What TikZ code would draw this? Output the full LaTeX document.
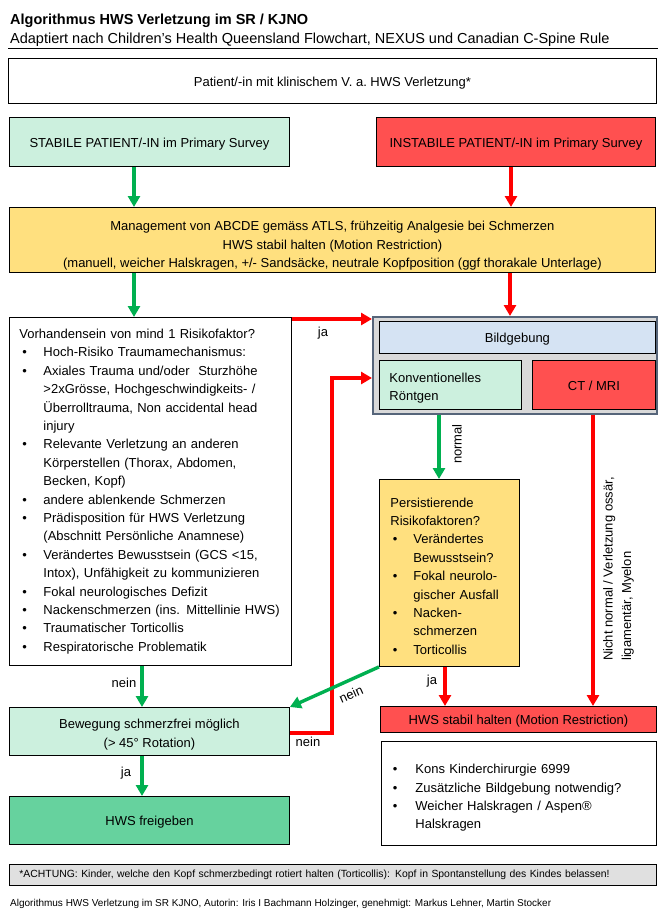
\documentclass[tikz,border=0pt]{standalone}
\usepackage{fontspec}
\setmainfont{Liberation Sans}
\usetikzlibrary{arrows.meta,calc}
\definecolor{mint}{HTML}{CCF0DE}
\definecolor{redbox}{HTML}{FF5050}
\definecolor{yel}{HTML}{FFE07F}
\definecolor{lblue}{HTML}{D5E3F3}
\definecolor{frei}{HTML}{66D29E}
\definecolor{cgray}{HTML}{D9D9D9}
\definecolor{lgray}{HTML}{E0E0E0}
\definecolor{slate}{HTML}{56657A}
\definecolor{arrg}{HTML}{00B050}
\definecolor{arrr}{HTML}{FF0000}
\newcommand\bitem[3]{\par\noindent\hangindent=#1\relax\makebox[#1][l]{\hspace{#2}\textbullet}#3}
\newcommand\tup[1]{\rule{0pt}{#1}}
\begin{document}
\begin{tikzpicture}[x=1pt,y=-1pt,
  every node/.style={font=\fontsize{13}{18.4}\selectfont},
  box/.style={draw=black, line width=0.9pt, inner sep=0pt, anchor=north west, align=center},
  one/.style={text height=13.5pt, text depth=3pt},
  lbl/.style={inner sep=0pt},
  garr/.style={draw=arrg, line width=3.4pt, -{Triangle[length=11pt,width=12pt]}},
  rarr/.style={draw=arrr, line width=3.4pt, -{Triangle[length=11pt,width=12pt]}}]
\useasboundingbox (0,0) rectangle (664,914);
\fill[white] (0,0) rectangle (664,914);
% header
\node[lbl, anchor=base west, font=\fontsize{14.5}{17}\selectfont\bfseries] (title) at (10,24) {Algorithmus HWS Verletzung im SR / KJNO};
\node[lbl, anchor=base west, font=\fontsize{14.5}{17}\selectfont] (subtitle) at (10,43) {Adaptiert nach Children’s Health Queensland Flowchart, NEXUS und Canadian C-Spine Rule};
\draw[line width=1pt] (8,48) -- (658,48);
% boxes
\node[box, one, minimum width=648, minimum height=45] (patient) at (8,58) {Patient/-in mit klinischem V.\ a.\ HWS Verletzung*};
\node[box, one, fill=mint, minimum width=280, minimum height=49] (stable) at (9,117) {STABILE PATIENT/-IN im Primary Survey};
\node[box, one, fill=redbox, minimum width=279, minimum height=49] (instable) at (376,117) {INSTABILE PATIENT/-IN im Primary Survey};
\node[box, fill=yel, minimum width=646, minimum height=65] (mgmt) at (9,207) {\tup{21.5pt}Management von ABCDE gemäss ATLS, frühzeitig Analgesie bei Schmerzen\\HWS stabil halten (Motion Restriction)\\(manuell, weicher Halskragen, +/- Sandsäcke, neutrale Kopfposition (ggf thorakale Unterlage)};
\node[box, minimum width=282, minimum height=348, text width=262, align=left, inner xsep=10pt] (risk) at (9,317) {\noindent Vorhandensein von mind 1 Risikofaktor?
\bitem{24pt}{3pt}{Hoch-Risiko Traumamechanismus:}
\bitem{24pt}{3pt}{Axiales Trauma und/oder\ \ Sturzhöhe\newline >2xGrösse, Hochgeschwindigkeits- /\newline Überrolltrauma, Non accidental head\newline injury}
\bitem{24pt}{3pt}{Relevante Verletzung an anderen\newline Körperstellen (Thorax, Abdomen,\newline Becken, Kopf)}
\bitem{24pt}{3pt}{andere ablenkende Schmerzen}
\bitem{24pt}{3pt}{Prädisposition für HWS Verletzung\newline (Abschnitt Persönliche Anamnese)}
\bitem{24pt}{3pt}{Verändertes Bewusstsein (GCS <15,\newline Intox), Unfähigkeit zu kommunizieren}
\bitem{24pt}{3pt}{Fokal neurologisches Defizit}
\bitem{24pt}{3pt}{Nackenschmerzen (ins. Mittellinie HWS)}
\bitem{24pt}{3pt}{Traumatischer Torticollis}
\bitem{24pt}{3pt}{Respiratorische Problematik}\par};
\node[box, draw=slate, line width=1.5pt, fill=cgray, minimum width=284, minimum height=97] (img) at (372,316) {};
\node[box, one, fill=lblue, minimum width=276, minimum height=32] (bild) at (379,321) {Bildgebung};
\node[box, fill=mint, minimum width=142, minimum height=49, text width=122, align=left, inner xsep=10pt] (konv) at (379,360) {\noindent\tup{15.5pt}Konventionelles\\Röntgen};
\node[box, one, fill=redbox, minimum width=123, minimum height=49] (ct) at (532,360) {CT / MRI};
\node[box, fill=yel, minimum width=140, minimum height=187, text width=118, align=left, inner xsep=11pt] (pers) at (379,479) {\noindent\tup{15.5pt}Persistierende\\Risikofaktoren?
\bitem{23pt}{2.5pt}{Verändertes\newline Bewusstsein?}
\bitem{23pt}{2.5pt}{Fokal neurolo-\newline gischer Ausfall}
\bitem{23pt}{2.5pt}{Nacken-\newline schmerzen}
\bitem{23pt}{2.5pt}{Torticollis}\par};
\node[box, fill=mint, minimum width=280, minimum height=48] (bew) at (9,707) {\tup{15.5pt}Bewegung schmerzfrei möglich\\(> 45° Rotation)};
\node[box, one, fill=frei, minimum width=280, minimum height=48] (frei) at (9,796) {HWS freigeben};
\node[box, one, fill=redbox, minimum width=276, minimum height=26] (stab) at (380,706) {HWS stabil halten (Motion Restriction)};
\node[box, minimum width=275, minimum height=104, text width=255, align=left, inner xsep=10pt] (kons) at (381,741) {\bitem{24pt}{1.5pt}{Kons Kinderchirurgie 6999}
\bitem{24pt}{1.5pt}{Zusätzliche Bildgebung notwendig?}
\bitem{24pt}{1.5pt}{Weicher Halskragen / Aspen®\newline Halskragen}\par};
\node[box, fill=lgray, minimum width=647, minimum height=21, text width=627, align=left, inner xsep=10pt, font=\fontsize{10.4}{12}\selectfont] (acht) at (9,864) {*ACHTUNG: Kinder, welche den Kopf schmerzbedingt rotiert halten (Torticollis): Kopf in Spontanstellung des Kindes belassen!};
\node[lbl, anchor=base west, font=\fontsize{10}{11}\selectfont] (foot) at (10,906) {Algorithmus HWS Verletzung im SR KJNO, Autorin: Iris I Bachmann Holzinger, genehmigt: Markus Lehner, Martin Stocker};
% connectors
\draw[garr] ($(stable.south west)+(125,0)$) -- ($(mgmt.north west)+(125,0)$);
\draw[rarr] ($(instable.south west)+(135,0)$) -- ($(mgmt.north west)+(502,0)$);
\draw[garr] ($(mgmt.south west)+(125,0)$) -- ($(risk.north west)+(125,0)$);
\draw[rarr] ($(mgmt.south west)+(501,0)$) -- ($(img.north west)+(138,0)$);
\draw[rarr] ($(risk.north east)+(0,2)$) -- ($(img.north west)+(0,3)$);
\draw[rarr] ($(bew.north east)+(0,26)$) -- ++(42,0) |- ($(img.north west)+(0,62)$);
\draw[garr] ($(img.south west)+(67,0)$) -- ($(pers.north west)+(60,0)$);
\draw[rarr] ($(img.south west)+(221,0)$) -- ($(stab.north west)+(213,0)$);
\draw[rarr] ($(pers.south west)+(66,0)$) -- ($(stab.north west)+(65,0)$);
\draw[garr] (pers.south west) -- (bew.north east);
\draw[garr] ($(risk.south west)+(133,0)$) -- ($(bew.north west)+(133,0)$);
\draw[garr] ($(bew.south west)+(133,0)$) -- ($(frei.north west)+(133,0)$);
% labels
\node[lbl] (l1) at (323,333) {ja};
\node[lbl] (l2) at (308,742) {nein};
\node[lbl, rotate=90] (l3) at (457,444) {normal};
\node[lbl, rotate=90, anchor=north west, align=left] (l4) at (603,661) {Nicht normal / Verletzung ossär,\\ligamentär, Myelon};
\node[lbl] (l5) at (432,681) {ja};
\node[lbl, rotate=24] (l6) at (351,694) {nein};
\node[lbl] (l7) at (124,683) {nein};
\node[lbl] (l8) at (126,773) {ja};
\end{tikzpicture}
\end{document}
